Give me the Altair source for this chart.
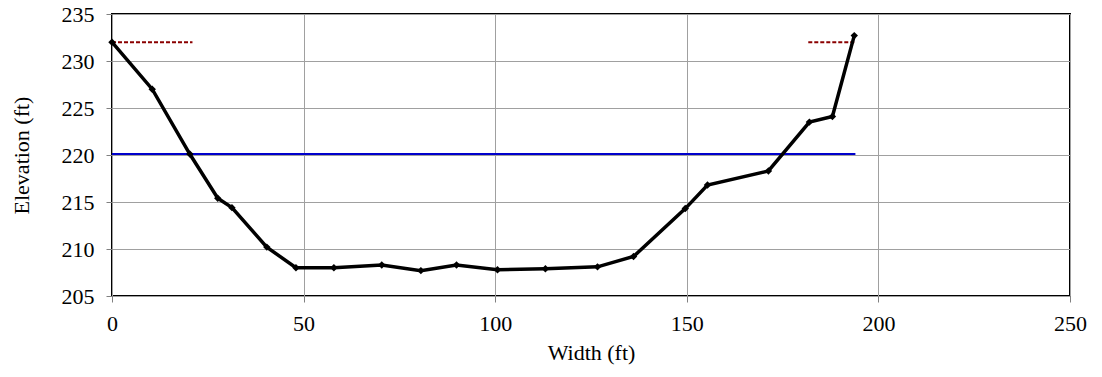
import altair as alt
import pandas as pd

# Surveyed cross-section: station (ft) vs. ground elevation (ft)
station = [0, 10.5, 20.3, 27.6, 31.3, 40.4, 48, 57.9, 70.4, 80.6, 89.9,
           100.6, 113.1, 126.7, 136.1, 149.6, 155.4, 171.3, 182, 188, 193.7]
elevation = [232.0, 227.0, 220.1, 215.4, 214.4, 210.2, 208.0, 208.0, 208.3, 207.7, 208.3,
             207.8, 207.9, 208.1, 209.2, 214.3, 216.8, 218.3, 223.5, 224.1, 232.7]

# Water surface elevation across the channel
ws_x = [0, 194]
ws_y = [220.1, 220.1]

# Bank-full reference levels at each bank
bank_left_x = [0, 21]
bank_right_x = [181.7, 194]
bank_y = [232.0, 232.0]

FONT = "Liberation Serif"
FS = 22

section = pd.DataFrame({"x": station, "y": elevation})
water = pd.DataFrame({"x": ws_x, "y": ws_y})
banks = pd.DataFrame({
    "x": bank_left_x + bank_right_x,
    "y": bank_y + bank_y,
    "side": ["left", "left", "right", "right"],
})

xscale = alt.Scale(domain=[0, 250], nice=False, zero=False)
yscale = alt.Scale(domain=[205, 235], nice=False, zero=False)

common = dict(grid=True, gridColor="#a0a0a0", gridWidth=1,
              domain=False, ticks=True, tickSize=6, tickColor="#808080",
              labelFont=FONT, titleFont=FONT, labelFontSize=FS, titleFontSize=FS,
              labelColor="black", titleColor="black", titleFontWeight="normal",
              labelFlush=False, labelOverlap=False)

xaxis = alt.Axis(values=[0, 50, 100, 150, 200, 250], title="Width (ft)",
                 labelPadding=11, titlePadding=8, **common)
yaxis = alt.Axis(values=[205, 210, 215, 220, 225, 230, 235], title="Elevation (ft)",
                 labelPadding=12, titlePadding=28, **common)

base_x = alt.X("x:Q", scale=xscale, axis=xaxis)
base_y = alt.Y("y:Q", scale=yscale, axis=yaxis)

water_line = alt.Chart(water).mark_line(color="#0000cc", strokeWidth=2).encode(
    x=base_x, y=base_y
)

bank_lines = alt.Chart(banks).mark_line(
    color="#8b0000", strokeWidth=2, strokeDash=[4, 2]
).encode(x="x:Q", y="y:Q", detail="side:N")

ground = alt.Chart(section).mark_line(
    color="black", strokeWidth=3.5,
    point=alt.OverlayMarkDef(shape="diamond", size=55, color="black", filled=True),
).encode(x="x:Q", y="y:Q")

chart = alt.layer(water_line, bank_lines, ground).properties(
    width=958, height=282,
    padding={"left": 112, "top": 14, "right": 32, "bottom": 81},
    autosize=alt.AutoSizeParams(type="none"),
    background="white",
).configure_view(
    stroke="black", strokeWidth=2
)

chart.save("out.html", embed_options={"renderer": "svg", "actions": False})
